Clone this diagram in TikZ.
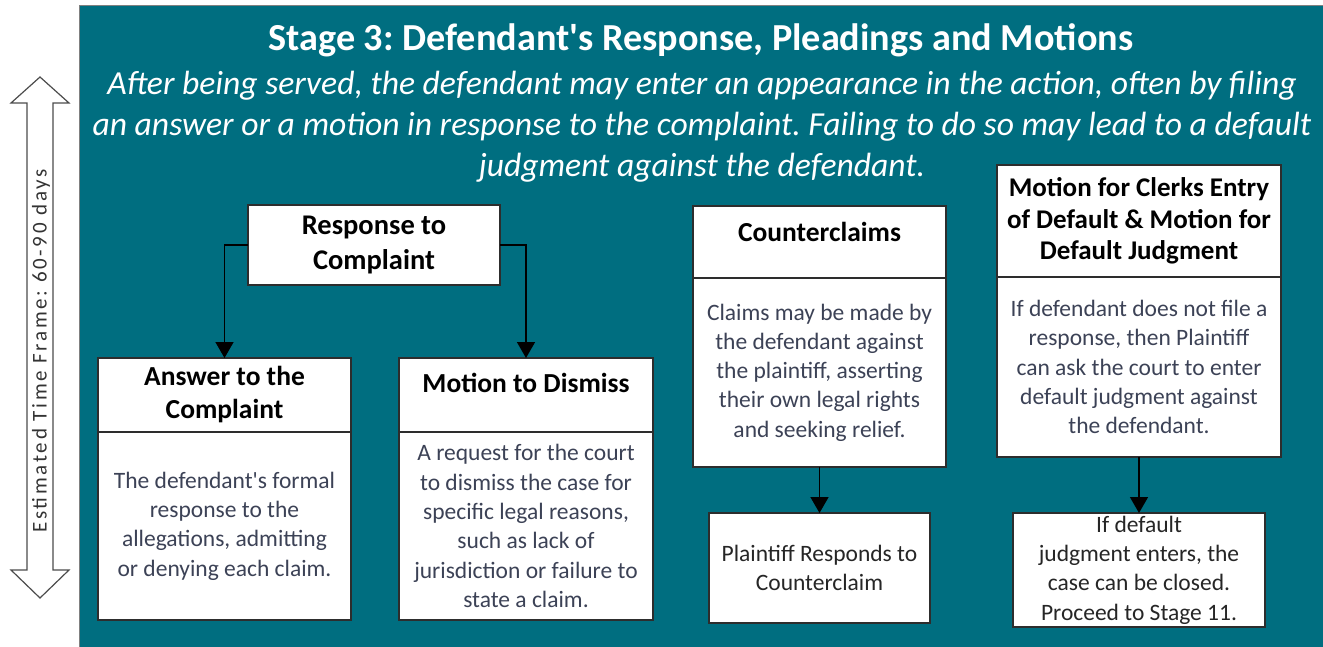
\documentclass[tikz,border=0pt]{standalone}
\usepackage{fontspec}
\setmainfont{Carlito}
\usetikzlibrary{arrows.meta,positioning}

\definecolor{stageteal}{RGB}{0,110,128}
\definecolor{boxline}{RGB}{45,45,45}
\definecolor{bodytext}{RGB}{60,66,86}
\frenchspacing

\begin{document}
\begin{tikzpicture}[x=1pt, y=-1pt, >={Triangle[width=18pt,length=16pt]},
  box/.style = {draw=boxline, line width=1.5pt, fill=white, align=center, inner sep=2pt, outer sep=0pt},
  head/.style = {box, font=\fontsize{27.5}{33}\selectfont\bfseries, text=black},
  body/.style = {box, font=\fontsize{23.5}{29.3}\selectfont, text=bodytext},
  leaf/.style = {box, font=\fontsize{23.5}{29.3}\selectfont, text=black!85},
  arr/.style = {->, line width=1.5pt, black}]

\useasboundingbox (0,0) rectangle (1323,647);
\fill[stageteal] (79,6) rectangle (1323,647);
\draw[gray, line width=1pt] (79,647) -- (79,6) -- (1323,6);

% time frame
\draw[black!70, line width=1.2pt, fill=white] (40,77) -- (69,103) -- (53,103) -- (53,570) -- (69,570)
  -- (40,598) -- (11,570) -- (27,570) -- (27,103) -- (11,103) -- cycle;
\node[rotate=90, font=\fontsize{21}{25}\selectfont\addfontfeatures{LetterSpace=13}, text=black!80] (span) at (41,351)
  {Estimated Time Frame: 60-90 days};

% heading
\node[text=white, font=\fontsize{38.2}{46}\selectfont\bfseries] (ttl) at (701,40)
  {Stage 3: Defendant\textquotesingle s Response, Pleadings and Motions};
\node[text=white, align=center, font=\fontsize{33.6}{41}\selectfont\itshape] (sub) at (702,127)
  {After being served, the defendant may enter an appearance in the action, often by filing\\
   an answer or a motion in response to the complaint. Failing to do so may lead to a default\\
   judgment against the defendant.};

% response to complaint
\node[head, minimum width=252, minimum height=80, font=\fontsize{28.5}{35}\selectfont\bfseries] (resp) at (374,245) {Response to\\Complaint};
\node[head, minimum width=253, minimum height=74] (anshead) at (224.5,395) {Answer to the\\Complaint};
\node[body, minimum width=253, minimum height=188, below=0pt of anshead] (ansbody)
  {The defendant\textquotesingle s formal\\response to the\\allegations, admitting\\or denying each claim.};
\node[head, minimum width=254, minimum height=74] (dishead) at (526,395) {Motion to Dismiss\\[-8pt]\mbox{}};
\node[body, minimum width=254, minimum height=188, below=0pt of dishead] (disbody)
  {A request for the court\\to dismiss the case for\\specific legal reasons,\\such as lack of\\jurisdiction or failure to\\state a claim.};

% counterclaims
\node[head, minimum width=253, minimum height=72] (cchead) at (819.5,242) {Counterclaims\\[-12pt]\mbox{}};
\node[body, minimum width=253, minimum height=189, below=0pt of cchead] (ccbody)
  {Claims may be made by\\the defendant against\\the plaintiff, asserting\\their own legal rights\\and seeking relief.};
\node[leaf, minimum width=221, minimum height=110] (plresp) at (819.5,568) {Plaintiff Responds to\\Counterclaim};

% default
\node[head, minimum width=284, minimum height=112, font=\fontsize{27}{31.5}\selectfont\bfseries] (defhead) at (1139,221)
  {Motion for Clerks Entry\\of Default \& Motion for\\Default Judgment};
\node[body, minimum width=284, minimum height=180, below=0pt of defhead] (defbody)
  {If defendant does not file a\\response, then Plaintiff\\can ask the court to enter\\default judgment against\\the defendant.};
\node[leaf, minimum width=252, minimum height=114] (defend) at (1139,570)
  {If default\\judgment enters, the\\case can be closed.\\Proceed to Stage 11.};

\draw[arr] (resp.west) -| (anshead.north);
\draw[arr] (resp.east) -| (dishead.north);
\draw[arr] (ccbody) -- (plresp);
\draw[arr] (defbody) -- (defend);

\end{tikzpicture}
\end{document}
